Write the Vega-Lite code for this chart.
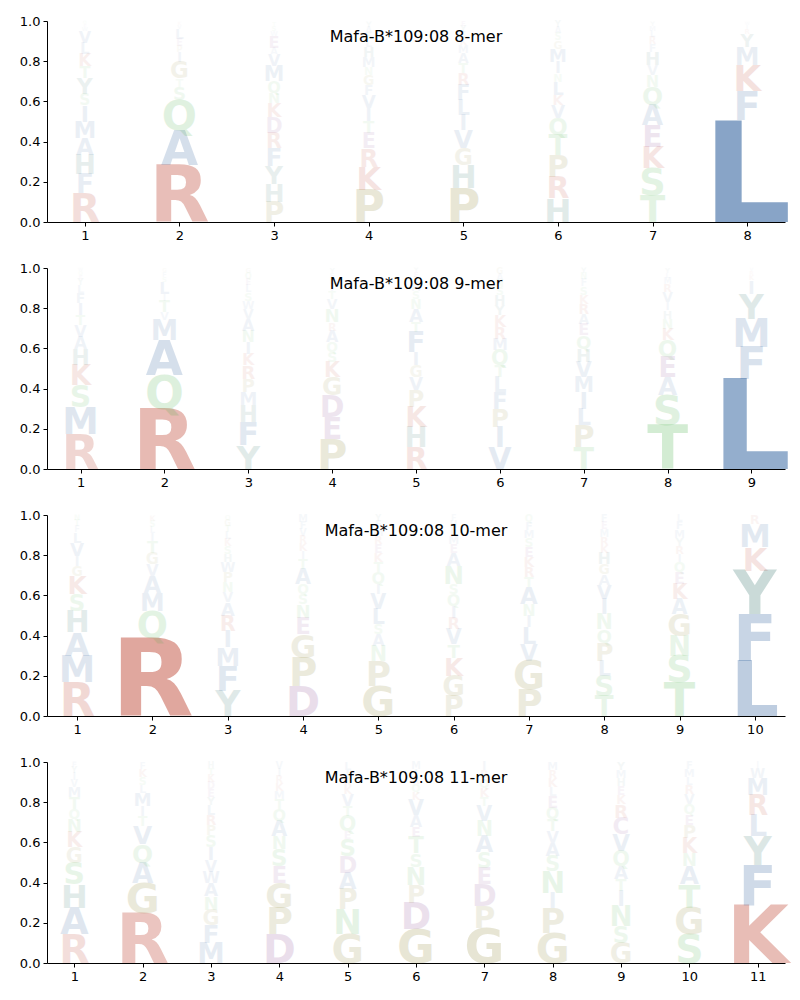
{
"$schema": "https://vega.github.io/schema/vega-lite/v6.json",
"background": "white",
"bounds": "flush",
"padding": {"left": 19, "top": 15, "right": 10, "bottom": 5},
"data": {"values": [
{"k":8,"x":1,"a":"R","p":0.143},{"k":8,"x":1,"a":"F","p":0.095},{"k":8,"x":1,"a":"H","p":0.096},{"k":8,"x":1,"a":"A","p":0.083},{"k":8,"x":1,"a":"M","p":0.083},{"k":8,"x":1,"a":"I","p":0.08},{"k":8,"x":1,"a":"S","p":0.056},{"k":8,"x":1,"a":"Y","p":0.08},{"k":8,"x":1,"a":"T","p":0.058},{"k":8,"x":1,"a":"K","p":0.061},{"k":8,"x":1,"a":"L","p":0.055},{"k":8,"x":1,"a":"V","p":0.058},{"k":8,"x":1,"a":"W","p":0.02},{"k":8,"x":1,"a":"E","p":0.015},{"k":8,"x":1,"a":"Q","p":0.017},
{"k":8,"x":2,"a":"R","p":0.284},{"k":8,"x":2,"a":"A","p":0.174},{"k":8,"x":2,"a":"Q","p":0.15},{"k":8,"x":2,"a":"S","p":0.066},{"k":8,"x":2,"a":"T","p":0.04},{"k":8,"x":2,"a":"G","p":0.083},{"k":8,"x":2,"a":"I","p":0.05},{"k":8,"x":2,"a":"P","p":0.03},{"k":8,"x":2,"a":"E","p":0.035},{"k":8,"x":2,"a":"L","p":0.05},{"k":8,"x":2,"a":"V","p":0.02},{"k":8,"x":2,"a":"K","p":0.016},
{"k":8,"x":3,"a":"P","p":0.1},{"k":8,"x":3,"a":"H","p":0.09},{"k":8,"x":3,"a":"Y","p":0.09},{"k":8,"x":3,"a":"F","p":0.09},{"k":8,"x":3,"a":"R","p":0.075},{"k":8,"x":3,"a":"D","p":0.075},{"k":8,"x":3,"a":"K","p":0.07},{"k":8,"x":3,"a":"N","p":0.053},{"k":8,"x":3,"a":"Q","p":0.058},{"k":8,"x":3,"a":"M","p":0.075},{"k":8,"x":3,"a":"V","p":0.058},{"k":8,"x":3,"a":"A","p":0.033},{"k":8,"x":3,"a":"E","p":0.058},{"k":8,"x":3,"a":"W","p":0.025},{"k":8,"x":3,"a":"S","p":0.025},{"k":8,"x":3,"a":"T","p":0.02},
{"k":8,"x":4,"a":"P","p":0.16},{"k":8,"x":4,"a":"K","p":0.116},{"k":8,"x":4,"a":"R","p":0.09},{"k":8,"x":4,"a":"E","p":0.075},{"k":8,"x":4,"a":"T","p":0.06},{"k":8,"x":4,"a":"I","p":0.065},{"k":8,"x":4,"a":"V","p":0.066},{"k":8,"x":4,"a":"F","p":0.05},{"k":8,"x":4,"a":"G","p":0.05},{"k":8,"x":4,"a":"N","p":0.04},{"k":8,"x":4,"a":"M","p":0.05},{"k":8,"x":4,"a":"H","p":0.05},{"k":8,"x":4,"a":"L","p":0.04},{"k":8,"x":4,"a":"S","p":0.03},{"k":8,"x":4,"a":"A","p":0.03},{"k":8,"x":4,"a":"Y","p":0.028},
{"k":8,"x":5,"a":"P","p":0.167},{"k":8,"x":5,"a":"H","p":0.116},{"k":8,"x":5,"a":"G","p":0.083},{"k":8,"x":5,"a":"V","p":0.09},{"k":8,"x":5,"a":"I","p":0.075},{"k":8,"x":5,"a":"L","p":0.075},{"k":8,"x":5,"a":"F","p":0.075},{"k":8,"x":5,"a":"R","p":0.058},{"k":8,"x":5,"a":"T","p":0.05},{"k":8,"x":5,"a":"A","p":0.05},{"k":8,"x":5,"a":"M","p":0.04},{"k":8,"x":5,"a":"K","p":0.035},{"k":8,"x":5,"a":"S","p":0.03},{"k":8,"x":5,"a":"Y","p":0.03},{"k":8,"x":5,"a":"E","p":0.025},
{"k":8,"x":6,"a":"H","p":0.118},{"k":8,"x":6,"a":"R","p":0.108},{"k":8,"x":6,"a":"P","p":0.108},{"k":8,"x":6,"a":"T","p":0.1},{"k":8,"x":6,"a":"Q","p":0.083},{"k":8,"x":6,"a":"V","p":0.066},{"k":8,"x":6,"a":"K","p":0.05},{"k":8,"x":6,"a":"L","p":0.066},{"k":8,"x":6,"a":"N","p":0.04},{"k":8,"x":6,"a":"I","p":0.058},{"k":8,"x":6,"a":"M","p":0.066},{"k":8,"x":6,"a":"G","p":0.04},{"k":8,"x":6,"a":"S","p":0.035},{"k":8,"x":6,"a":"A","p":0.03},{"k":8,"x":6,"a":"Y","p":0.031},
{"k":8,"x":7,"a":"T","p":0.134},{"k":8,"x":7,"a":"S","p":0.133},{"k":8,"x":7,"a":"K","p":0.108},{"k":8,"x":7,"a":"E","p":0.108},{"k":8,"x":7,"a":"A","p":0.1},{"k":8,"x":7,"a":"Q","p":0.09},{"k":8,"x":7,"a":"N","p":0.058},{"k":8,"x":7,"a":"V","p":0.05},{"k":8,"x":7,"a":"H","p":0.066},{"k":8,"x":7,"a":"F","p":0.04},{"k":8,"x":7,"a":"R","p":0.035},{"k":8,"x":7,"a":"L","p":0.03},{"k":8,"x":7,"a":"M","p":0.025},{"k":8,"x":7,"a":"Y","p":0.023},
{"k":8,"x":8,"a":"L","p":0.507},{"k":8,"x":8,"a":"F","p":0.144},{"k":8,"x":8,"a":"K","p":0.13},{"k":8,"x":8,"a":"M","p":0.09},{"k":8,"x":8,"a":"Y","p":0.066},{"k":8,"x":8,"a":"R","p":0.025},{"k":8,"x":8,"a":"I","p":0.02},{"k":8,"x":8,"a":"W","p":0.016},
{"k":9,"x":1,"a":"R","p":0.176},{"k":9,"x":1,"a":"M","p":0.133},{"k":9,"x":1,"a":"S","p":0.108},{"k":9,"x":1,"a":"K","p":0.1},{"k":9,"x":1,"a":"H","p":0.08},{"k":9,"x":1,"a":"A","p":0.061},{"k":9,"x":1,"a":"V","p":0.058},{"k":9,"x":1,"a":"T","p":0.05},{"k":9,"x":1,"a":"I","p":0.058},{"k":9,"x":1,"a":"F","p":0.05},{"k":9,"x":1,"a":"L","p":0.041},{"k":9,"x":1,"a":"Y","p":0.03},{"k":9,"x":1,"a":"E","p":0.02},{"k":9,"x":1,"a":"Q","p":0.02},{"k":9,"x":1,"a":"W","p":0.016},
{"k":9,"x":2,"a":"R","p":0.3},{"k":9,"x":2,"a":"Q","p":0.166},{"k":9,"x":2,"a":"A","p":0.174},{"k":9,"x":2,"a":"M","p":0.1},{"k":9,"x":2,"a":"V","p":0.04},{"k":9,"x":2,"a":"T","p":0.058},{"k":9,"x":2,"a":"I","p":0.033},{"k":9,"x":2,"a":"L","p":0.058},{"k":9,"x":2,"a":"S","p":0.025},{"k":9,"x":2,"a":"F","p":0.025},{"k":9,"x":2,"a":"G","p":0.02},
{"k":9,"x":3,"a":"Y","p":0.118},{"k":9,"x":3,"a":"F","p":0.116},{"k":9,"x":3,"a":"H","p":0.083},{"k":9,"x":3,"a":"M","p":0.066},{"k":9,"x":3,"a":"P","p":0.066},{"k":9,"x":3,"a":"R","p":0.066},{"k":9,"x":3,"a":"K","p":0.058},{"k":9,"x":3,"a":"I","p":0.058},{"k":9,"x":3,"a":"N","p":0.058},{"k":9,"x":3,"a":"A","p":0.058},{"k":9,"x":3,"a":"V","p":0.05},{"k":9,"x":3,"a":"W","p":0.041},{"k":9,"x":3,"a":"S","p":0.041},{"k":9,"x":3,"a":"L","p":0.035},{"k":9,"x":3,"a":"E","p":0.03},{"k":9,"x":3,"a":"Q","p":0.03},{"k":9,"x":3,"a":"G","p":0.025},
{"k":9,"x":4,"a":"P","p":0.15},{"k":9,"x":4,"a":"E","p":0.108},{"k":9,"x":4,"a":"D","p":0.108},{"k":9,"x":4,"a":"G","p":0.09},{"k":9,"x":4,"a":"K","p":0.075},{"k":9,"x":4,"a":"S","p":0.05},{"k":9,"x":4,"a":"Q","p":0.05},{"k":9,"x":4,"a":"A","p":0.058},{"k":9,"x":4,"a":"R","p":0.04},{"k":9,"x":4,"a":"N","p":0.066},{"k":9,"x":4,"a":"V","p":0.05},{"k":9,"x":4,"a":"T","p":0.04},{"k":9,"x":4,"a":"I","p":0.035},{"k":9,"x":4,"a":"L","p":0.03},{"k":9,"x":4,"a":"F","p":0.025},{"k":9,"x":4,"a":"Y","p":0.025},
{"k":9,"x":5,"a":"R","p":0.109},{"k":9,"x":5,"a":"H","p":0.1},{"k":9,"x":5,"a":"K","p":0.1},{"k":9,"x":5,"a":"P","p":0.083},{"k":9,"x":5,"a":"V","p":0.066},{"k":9,"x":5,"a":"G","p":0.058},{"k":9,"x":5,"a":"I","p":0.066},{"k":9,"x":5,"a":"F","p":0.1},{"k":9,"x":5,"a":"T","p":0.05},{"k":9,"x":5,"a":"A","p":0.066},{"k":9,"x":5,"a":"N","p":0.05},{"k":9,"x":5,"a":"S","p":0.04},{"k":9,"x":5,"a":"M","p":0.035},{"k":9,"x":5,"a":"L","p":0.03},{"k":9,"x":5,"a":"E","p":0.025},{"k":9,"x":5,"a":"Y","p":0.023},
{"k":9,"x":6,"a":"V","p":0.109},{"k":9,"x":6,"a":"I","p":0.1},{"k":9,"x":6,"a":"P","p":0.09},{"k":9,"x":6,"a":"F","p":0.083},{"k":9,"x":6,"a":"L","p":0.075},{"k":9,"x":6,"a":"T","p":0.058},{"k":9,"x":6,"a":"Q","p":0.075},{"k":9,"x":6,"a":"M","p":0.058},{"k":9,"x":6,"a":"R","p":0.058},{"k":9,"x":6,"a":"K","p":0.058},{"k":9,"x":6,"a":"Y","p":0.05},{"k":9,"x":6,"a":"H","p":0.05},{"k":9,"x":6,"a":"S","p":0.04},{"k":9,"x":6,"a":"N","p":0.035},{"k":9,"x":6,"a":"A","p":0.03},{"k":9,"x":6,"a":"G","p":0.031},
{"k":9,"x":7,"a":"T","p":0.109},{"k":9,"x":7,"a":"P","p":0.108},{"k":9,"x":7,"a":"L","p":0.083},{"k":9,"x":7,"a":"I","p":0.083},{"k":9,"x":7,"a":"M","p":0.075},{"k":9,"x":7,"a":"V","p":0.075},{"k":9,"x":7,"a":"H","p":0.066},{"k":9,"x":7,"a":"Q","p":0.066},{"k":9,"x":7,"a":"E","p":0.058},{"k":9,"x":7,"a":"A","p":0.05},{"k":9,"x":7,"a":"R","p":0.05},{"k":9,"x":7,"a":"K","p":0.045},{"k":9,"x":7,"a":"S","p":0.04},{"k":9,"x":7,"a":"F","p":0.035},{"k":9,"x":7,"a":"N","p":0.03},{"k":9,"x":7,"a":"Y","p":0.027},
{"k":9,"x":8,"a":"T","p":0.217},{"k":9,"x":8,"a":"S","p":0.15},{"k":9,"x":8,"a":"A","p":0.09},{"k":9,"x":8,"a":"E","p":0.1},{"k":9,"x":8,"a":"Q","p":0.083},{"k":9,"x":8,"a":"K","p":0.058},{"k":9,"x":8,"a":"N","p":0.05},{"k":9,"x":8,"a":"H","p":0.041},{"k":9,"x":8,"a":"I","p":0.041},{"k":9,"x":8,"a":"V","p":0.05},{"k":9,"x":8,"a":"R","p":0.04},{"k":9,"x":8,"a":"M","p":0.03},{"k":9,"x":8,"a":"L","p":0.025},{"k":9,"x":8,"a":"Y","p":0.025},
{"k":9,"x":9,"a":"L","p":0.45},{"k":9,"x":9,"a":"F","p":0.158},{"k":9,"x":9,"a":"M","p":0.14},{"k":9,"x":9,"a":"Y","p":0.124},{"k":9,"x":9,"a":"I","p":0.066},{"k":9,"x":9,"a":"K","p":0.025},{"k":9,"x":9,"a":"R","p":0.02},{"k":9,"x":9,"a":"V","p":0.016},
{"k":10,"x":1,"a":"R","p":0.167},{"k":10,"x":1,"a":"M","p":0.133},{"k":10,"x":1,"a":"A","p":0.116},{"k":10,"x":1,"a":"H","p":0.108},{"k":10,"x":1,"a":"S","p":0.083},{"k":10,"x":1,"a":"K","p":0.09},{"k":10,"x":1,"a":"G","p":0.05},{"k":10,"x":1,"a":"I","p":0.05},{"k":10,"x":1,"a":"V","p":0.066},{"k":10,"x":1,"a":"L","p":0.05},{"k":10,"x":1,"a":"F","p":0.03},{"k":10,"x":1,"a":"T","p":0.03},{"k":10,"x":1,"a":"N","p":0.027},
{"k":10,"x":2,"a":"R","p":0.39},{"k":10,"x":2,"a":"Q","p":0.133},{"k":10,"x":2,"a":"M","p":0.09},{"k":10,"x":2,"a":"A","p":0.083},{"k":10,"x":2,"a":"V","p":0.058},{"k":10,"x":2,"a":"G","p":0.058},{"k":10,"x":2,"a":"T","p":0.058},{"k":10,"x":2,"a":"I","p":0.041},{"k":10,"x":2,"a":"L","p":0.03},{"k":10,"x":2,"a":"S","p":0.03},{"k":10,"x":2,"a":"K","p":0.028},
{"k":10,"x":3,"a":"Y","p":0.126},{"k":10,"x":3,"a":"F","p":0.125},{"k":10,"x":3,"a":"M","p":0.09},{"k":10,"x":3,"a":"I","p":0.083},{"k":10,"x":3,"a":"R","p":0.075},{"k":10,"x":3,"a":"A","p":0.066},{"k":10,"x":3,"a":"V","p":0.05},{"k":10,"x":3,"a":"N","p":0.05},{"k":10,"x":3,"a":"P","p":0.05},{"k":10,"x":3,"a":"W","p":0.05},{"k":10,"x":3,"a":"H","p":0.04},{"k":10,"x":3,"a":"S","p":0.04},{"k":10,"x":3,"a":"K","p":0.035},{"k":10,"x":3,"a":"L","p":0.035},{"k":10,"x":3,"a":"T","p":0.03},{"k":10,"x":3,"a":"G","p":0.03},{"k":10,"x":3,"a":"Q","p":0.025},
{"k":10,"x":4,"a":"D","p":0.15},{"k":10,"x":4,"a":"P","p":0.14},{"k":10,"x":4,"a":"G","p":0.116},{"k":10,"x":4,"a":"E","p":0.083},{"k":10,"x":4,"a":"N","p":0.066},{"k":10,"x":4,"a":"S","p":0.05},{"k":10,"x":4,"a":"Q","p":0.05},{"k":10,"x":4,"a":"A","p":0.075},{"k":10,"x":4,"a":"T","p":0.05},{"k":10,"x":4,"a":"I","p":0.04},{"k":10,"x":4,"a":"K","p":0.04},{"k":10,"x":4,"a":"R","p":0.035},{"k":10,"x":4,"a":"V","p":0.035},{"k":10,"x":4,"a":"F","p":0.035},{"k":10,"x":4,"a":"M","p":0.035},
{"k":10,"x":5,"a":"G","p":0.15},{"k":10,"x":5,"a":"P","p":0.125},{"k":10,"x":5,"a":"N","p":0.075},{"k":10,"x":5,"a":"A","p":0.058},{"k":10,"x":5,"a":"S","p":0.05},{"k":10,"x":5,"a":"L","p":0.075},{"k":10,"x":5,"a":"V","p":0.075},{"k":10,"x":5,"a":"I","p":0.05},{"k":10,"x":5,"a":"Q","p":0.058},{"k":10,"x":5,"a":"T","p":0.05},{"k":10,"x":5,"a":"K","p":0.045},{"k":10,"x":5,"a":"E","p":0.045},{"k":10,"x":5,"a":"R","p":0.04},{"k":10,"x":5,"a":"M","p":0.04},{"k":10,"x":5,"a":"F","p":0.035},{"k":10,"x":5,"a":"Y","p":0.03},
{"k":10,"x":6,"a":"P","p":0.1},{"k":10,"x":6,"a":"G","p":0.1},{"k":10,"x":6,"a":"K","p":0.09},{"k":10,"x":6,"a":"T","p":0.066},{"k":10,"x":6,"a":"V","p":0.075},{"k":10,"x":6,"a":"R","p":0.058},{"k":10,"x":6,"a":"I","p":0.058},{"k":10,"x":6,"a":"Q","p":0.058},{"k":10,"x":6,"a":"S","p":0.05},{"k":10,"x":6,"a":"N","p":0.09},{"k":10,"x":6,"a":"A","p":0.066},{"k":10,"x":6,"a":"E","p":0.045},{"k":10,"x":6,"a":"M","p":0.04},{"k":10,"x":6,"a":"L","p":0.04},{"k":10,"x":6,"a":"H","p":0.035},{"k":10,"x":6,"a":"F","p":0.029},
{"k":10,"x":7,"a":"P","p":0.134},{"k":10,"x":7,"a":"G","p":0.141},{"k":10,"x":7,"a":"V","p":0.083},{"k":10,"x":7,"a":"L","p":0.083},{"k":10,"x":7,"a":"I","p":0.058},{"k":10,"x":7,"a":"N","p":0.058},{"k":10,"x":7,"a":"A","p":0.083},{"k":10,"x":7,"a":"T","p":0.05},{"k":10,"x":7,"a":"R","p":0.05},{"k":10,"x":7,"a":"K","p":0.05},{"k":10,"x":7,"a":"E","p":0.05},{"k":10,"x":7,"a":"S","p":0.045},{"k":10,"x":7,"a":"M","p":0.04},{"k":10,"x":7,"a":"F","p":0.04},{"k":10,"x":7,"a":"Q","p":0.035},
{"k":10,"x":8,"a":"T","p":0.1},{"k":10,"x":8,"a":"S","p":0.1},{"k":10,"x":8,"a":"L","p":0.075},{"k":10,"x":8,"a":"P","p":0.09},{"k":10,"x":8,"a":"Q","p":0.066},{"k":10,"x":8,"a":"N","p":0.075},{"k":10,"x":8,"a":"I","p":0.075},{"k":10,"x":8,"a":"V","p":0.07},{"k":10,"x":8,"a":"A","p":0.054},{"k":10,"x":8,"a":"G","p":0.05},{"k":10,"x":8,"a":"H","p":0.058},{"k":10,"x":8,"a":"K","p":0.04},{"k":10,"x":8,"a":"R","p":0.04},{"k":10,"x":8,"a":"M","p":0.035},{"k":10,"x":8,"a":"E","p":0.035},{"k":10,"x":8,"a":"F","p":0.036},
{"k":10,"x":9,"a":"T","p":0.167},{"k":10,"x":9,"a":"S","p":0.133},{"k":10,"x":9,"a":"N","p":0.1},{"k":10,"x":9,"a":"G","p":0.108},{"k":10,"x":9,"a":"A","p":0.075},{"k":10,"x":9,"a":"K","p":0.075},{"k":10,"x":9,"a":"E","p":0.058},{"k":10,"x":9,"a":"Q","p":0.05},{"k":10,"x":9,"a":"I","p":0.041},{"k":10,"x":9,"a":"R","p":0.041},{"k":10,"x":9,"a":"Y","p":0.04},{"k":10,"x":9,"a":"M","p":0.04},{"k":10,"x":9,"a":"F","p":0.04},{"k":10,"x":9,"a":"L","p":0.033},
{"k":10,"x":10,"a":"L","p":0.275},{"k":10,"x":10,"a":"F","p":0.232},{"k":10,"x":10,"a":"Y","p":0.216},{"k":10,"x":10,"a":"K","p":0.116},{"k":10,"x":10,"a":"M","p":0.116},{"k":10,"x":10,"a":"R","p":0.045},
{"k":11,"x":1,"a":"R","p":0.143},{"k":11,"x":1,"a":"A","p":0.133},{"k":11,"x":1,"a":"H","p":0.116},{"k":11,"x":1,"a":"S","p":0.108},{"k":11,"x":1,"a":"G","p":0.075},{"k":11,"x":1,"a":"K","p":0.075},{"k":11,"x":1,"a":"N","p":0.066},{"k":11,"x":1,"a":"Q","p":0.05},{"k":11,"x":1,"a":"T","p":0.058},{"k":11,"x":1,"a":"M","p":0.05},{"k":11,"x":1,"a":"V","p":0.035},{"k":11,"x":1,"a":"I","p":0.035},{"k":11,"x":1,"a":"Y","p":0.03},{"k":11,"x":1,"a":"F","p":0.027},
{"k":11,"x":2,"a":"R","p":0.25},{"k":11,"x":2,"a":"G","p":0.15},{"k":11,"x":2,"a":"A","p":0.1},{"k":11,"x":2,"a":"Q","p":0.09},{"k":11,"x":2,"a":"V","p":0.09},{"k":11,"x":2,"a":"T","p":0.05},{"k":11,"x":2,"a":"I","p":0.05},{"k":11,"x":2,"a":"M","p":0.066},{"k":11,"x":2,"a":"L","p":0.04},{"k":11,"x":2,"a":"S","p":0.04},{"k":11,"x":2,"a":"K","p":0.04},{"k":11,"x":2,"a":"F","p":0.033},
{"k":11,"x":3,"a":"M","p":0.1},{"k":11,"x":3,"a":"F","p":0.09},{"k":11,"x":3,"a":"G","p":0.075},{"k":11,"x":3,"a":"N","p":0.066},{"k":11,"x":3,"a":"A","p":0.066},{"k":11,"x":3,"a":"W","p":0.058},{"k":11,"x":3,"a":"V","p":0.058},{"k":11,"x":3,"a":"I","p":0.066},{"k":11,"x":3,"a":"S","p":0.058},{"k":11,"x":3,"a":"P","p":0.05},{"k":11,"x":3,"a":"R","p":0.05},{"k":11,"x":3,"a":"L","p":0.05},{"k":11,"x":3,"a":"Y","p":0.04},{"k":11,"x":3,"a":"E","p":0.04},{"k":11,"x":3,"a":"D","p":0.035},{"k":11,"x":3,"a":"K","p":0.035},{"k":11,"x":3,"a":"T","p":0.033},{"k":11,"x":3,"a":"H","p":0.03},
{"k":11,"x":4,"a":"D","p":0.143},{"k":11,"x":4,"a":"P","p":0.133},{"k":11,"x":4,"a":"G","p":0.124},{"k":11,"x":4,"a":"E","p":0.083},{"k":11,"x":4,"a":"S","p":0.083},{"k":11,"x":4,"a":"N","p":0.066},{"k":11,"x":4,"a":"A","p":0.075},{"k":11,"x":4,"a":"Q","p":0.058},{"k":11,"x":4,"a":"T","p":0.05},{"k":11,"x":4,"a":"M","p":0.04},{"k":11,"x":4,"a":"K","p":0.04},{"k":11,"x":4,"a":"R","p":0.035},{"k":11,"x":4,"a":"I","p":0.036},{"k":11,"x":4,"a":"V","p":0.035},
{"k":11,"x":5,"a":"G","p":0.143},{"k":11,"x":5,"a":"N","p":0.124},{"k":11,"x":5,"a":"P","p":0.1},{"k":11,"x":5,"a":"A","p":0.083},{"k":11,"x":5,"a":"D","p":0.083},{"k":11,"x":5,"a":"S","p":0.083},{"k":11,"x":5,"a":"E","p":0.041},{"k":11,"x":5,"a":"Q","p":0.075},{"k":11,"x":5,"a":"T","p":0.05},{"k":11,"x":5,"a":"V","p":0.058},{"k":11,"x":5,"a":"K","p":0.04},{"k":11,"x":5,"a":"R","p":0.04},{"k":11,"x":5,"a":"I","p":0.04},{"k":11,"x":5,"a":"L","p":0.04},
{"k":11,"x":6,"a":"G","p":0.167},{"k":11,"x":6,"a":"D","p":0.133},{"k":11,"x":6,"a":"P","p":0.09},{"k":11,"x":6,"a":"N","p":0.09},{"k":11,"x":6,"a":"S","p":0.066},{"k":11,"x":6,"a":"T","p":0.083},{"k":11,"x":6,"a":"E","p":0.05},{"k":11,"x":6,"a":"A","p":0.058},{"k":11,"x":6,"a":"V","p":0.075},{"k":11,"x":6,"a":"K","p":0.04},{"k":11,"x":6,"a":"Q","p":0.04},{"k":11,"x":6,"a":"R","p":0.035},{"k":11,"x":6,"a":"I","p":0.036},{"k":11,"x":6,"a":"M","p":0.035},
{"k":11,"x":7,"a":"G","p":0.176},{"k":11,"x":7,"a":"P","p":0.108},{"k":11,"x":7,"a":"D","p":0.108},{"k":11,"x":7,"a":"E","p":0.083},{"k":11,"x":7,"a":"S","p":0.075},{"k":11,"x":7,"a":"A","p":0.083},{"k":11,"x":7,"a":"N","p":0.075},{"k":11,"x":7,"a":"V","p":0.075},{"k":11,"x":7,"a":"T","p":0.045},{"k":11,"x":7,"a":"K","p":0.045},{"k":11,"x":7,"a":"Q","p":0.045},{"k":11,"x":7,"a":"R","p":0.04},{"k":11,"x":7,"a":"I","p":0.044},
{"k":11,"x":8,"a":"G","p":0.15},{"k":11,"x":8,"a":"P","p":0.124},{"k":11,"x":8,"a":"I","p":0.075},{"k":11,"x":8,"a":"N","p":0.108},{"k":11,"x":8,"a":"S","p":0.075},{"k":11,"x":8,"a":"A","p":0.066},{"k":11,"x":8,"a":"V","p":0.058},{"k":11,"x":8,"a":"T","p":0.058},{"k":11,"x":8,"a":"Q","p":0.058},{"k":11,"x":8,"a":"E","p":0.058},{"k":11,"x":8,"a":"L","p":0.045},{"k":11,"x":8,"a":"K","p":0.045},{"k":11,"x":8,"a":"R","p":0.04},{"k":11,"x":8,"a":"M","p":0.039},
{"k":11,"x":9,"a":"G","p":0.1},{"k":11,"x":9,"a":"S","p":0.083},{"k":11,"x":9,"a":"N","p":0.1},{"k":11,"x":9,"a":"I","p":0.075},{"k":11,"x":9,"a":"T","p":0.058},{"k":11,"x":9,"a":"A","p":0.066},{"k":11,"x":9,"a":"Q","p":0.075},{"k":11,"x":9,"a":"V","p":0.083},{"k":11,"x":9,"a":"C","p":0.083},{"k":11,"x":9,"a":"R","p":0.066},{"k":11,"x":9,"a":"K","p":0.045},{"k":11,"x":9,"a":"E","p":0.045},{"k":11,"x":9,"a":"H","p":0.04},{"k":11,"x":9,"a":"M","p":0.04},{"k":11,"x":9,"a":"Y","p":0.04},
{"k":11,"x":10,"a":"S","p":0.143},{"k":11,"x":10,"a":"G","p":0.133},{"k":11,"x":10,"a":"T","p":0.116},{"k":11,"x":10,"a":"A","p":0.09},{"k":11,"x":10,"a":"N","p":0.066},{"k":11,"x":10,"a":"K","p":0.075},{"k":11,"x":10,"a":"P","p":0.066},{"k":11,"x":10,"a":"E","p":0.05},{"k":11,"x":10,"a":"Q","p":0.05},{"k":11,"x":10,"a":"V","p":0.05},{"k":11,"x":10,"a":"R","p":0.045},{"k":11,"x":10,"a":"L","p":0.04},{"k":11,"x":10,"a":"M","p":0.04},{"k":11,"x":10,"a":"F","p":0.036},
{"k":11,"x":11,"a":"K","p":0.29},{"k":11,"x":11,"a":"F","p":0.2},{"k":11,"x":11,"a":"Y","p":0.14},{"k":11,"x":11,"a":"L","p":0.108},{"k":11,"x":11,"a":"R","p":0.1},{"k":11,"x":11,"a":"M","p":0.083},{"k":11,"x":11,"a":"W","p":0.05},{"k":11,"x":11,"a":"I","p":0.029}
]},
"spacing": 46,
"resolve": {"scale": {"x": "independent", "y": "independent"}},
"vconcat": [
{"width": 738, "height": 201, "title": {"text": "Mafa-B*109:08 8-mer"},
 "transform": [{"filter": "datum.k == 8"}, {"stack": "p", "groupby": ["x"], "as": ["y0", "y1"]}],
 "mark": {"type": "text", "font": "DejaVu Sans", "fontWeight": "bold", "baseline": "alphabetic", "align": "center"},
 "encoding": {
  "x": {"field": "x", "type": "quantitative", "scale": {"domain": [0.6, 8.4], "nice": false, "zero": false}, "axis": {"values": [1,2,3,4,5,6,7,8], "format": "d"}},
  "y": {"field": "y0", "type": "quantitative", "scale": {"domain": [0, 1], "nice": false}, "axis": {"values": [0,0.2,0.4,0.6,0.8,1], "format": ".1f"}},
  "text": {"field": "a"},
  "color": {"field": "a", "type": "nominal", "scale": {"domain": ["A","C","D","E","F","G","H","I","K","L","M","N","P","Q","R","S","T","V","W","Y"], "range": ["#154d91","#70207a","#70207a","#70207a","#154d91","#7a7010","#0e5a50","#154d91","#b11e08","#154d91","#154d91","#37a937","#7a7010","#37a937","#b11e08","#37a937","#37a937","#154d91","#154d91","#0e5a50"]}, "legend": null},
  "size": {"field": "p", "type": "quantitative", "scale": {"domain": [0, 1], "range": [0, 276]}, "legend": null},
  "opacity": {"field": "p", "type": "quantitative", "scale": {"domain": [0, 1], "range": [0, 1]}, "legend": null}
 }},
{"width": 738, "height": 201, "title": {"text": "Mafa-B*109:08 9-mer"},
 "transform": [{"filter": "datum.k == 9"}, {"stack": "p", "groupby": ["x"], "as": ["y0", "y1"]}],
 "mark": {"type": "text", "font": "DejaVu Sans", "fontWeight": "bold", "baseline": "alphabetic", "align": "center"},
 "encoding": {
  "x": {"field": "x", "type": "quantitative", "scale": {"domain": [0.6, 9.4], "nice": false, "zero": false}, "axis": {"values": [1,2,3,4,5,6,7,8,9], "format": "d"}},
  "y": {"field": "y0", "type": "quantitative", "scale": {"domain": [0, 1], "nice": false}, "axis": {"values": [0,0.2,0.4,0.6,0.8,1], "format": ".1f"}},
  "text": {"field": "a"},
  "color": {"field": "a", "type": "nominal", "scale": {"domain": ["A","C","D","E","F","G","H","I","K","L","M","N","P","Q","R","S","T","V","W","Y"], "range": ["#154d91","#70207a","#70207a","#70207a","#154d91","#7a7010","#0e5a50","#154d91","#b11e08","#154d91","#154d91","#37a937","#7a7010","#37a937","#b11e08","#37a937","#37a937","#154d91","#154d91","#0e5a50"]}, "legend": null},
  "size": {"field": "p", "type": "quantitative", "scale": {"domain": [0, 1], "range": [0, 276]}, "legend": null},
  "opacity": {"field": "p", "type": "quantitative", "scale": {"domain": [0, 1], "range": [0, 1]}, "legend": null}
 }},
{"width": 738, "height": 201, "title": {"text": "Mafa-B*109:08 10-mer"},
 "transform": [{"filter": "datum.k == 10"}, {"stack": "p", "groupby": ["x"], "as": ["y0", "y1"]}],
 "mark": {"type": "text", "font": "DejaVu Sans", "fontWeight": "bold", "baseline": "alphabetic", "align": "center"},
 "encoding": {
  "x": {"field": "x", "type": "quantitative", "scale": {"domain": [0.6, 10.4], "nice": false, "zero": false}, "axis": {"values": [1,2,3,4,5,6,7,8,9,10], "format": "d"}},
  "y": {"field": "y0", "type": "quantitative", "scale": {"domain": [0, 1], "nice": false}, "axis": {"values": [0,0.2,0.4,0.6,0.8,1], "format": ".1f"}},
  "text": {"field": "a"},
  "color": {"field": "a", "type": "nominal", "scale": {"domain": ["A","C","D","E","F","G","H","I","K","L","M","N","P","Q","R","S","T","V","W","Y"], "range": ["#154d91","#70207a","#70207a","#70207a","#154d91","#7a7010","#0e5a50","#154d91","#b11e08","#154d91","#154d91","#37a937","#7a7010","#37a937","#b11e08","#37a937","#37a937","#154d91","#154d91","#0e5a50"]}, "legend": null},
  "size": {"field": "p", "type": "quantitative", "scale": {"domain": [0, 1], "range": [0, 276]}, "legend": null},
  "opacity": {"field": "p", "type": "quantitative", "scale": {"domain": [0, 1], "range": [0, 1]}, "legend": null}
 }},
{"width": 738, "height": 201, "title": {"text": "Mafa-B*109:08 11-mer"},
 "transform": [{"filter": "datum.k == 11"}, {"stack": "p", "groupby": ["x"], "as": ["y0", "y1"]}],
 "mark": {"type": "text", "font": "DejaVu Sans", "fontWeight": "bold", "baseline": "alphabetic", "align": "center"},
 "encoding": {
  "x": {"field": "x", "type": "quantitative", "scale": {"domain": [0.6, 11.4], "nice": false, "zero": false}, "axis": {"values": [1,2,3,4,5,6,7,8,9,10,11], "format": "d"}},
  "y": {"field": "y0", "type": "quantitative", "scale": {"domain": [0, 1], "nice": false}, "axis": {"values": [0,0.2,0.4,0.6,0.8,1], "format": ".1f"}},
  "text": {"field": "a"},
  "color": {"field": "a", "type": "nominal", "scale": {"domain": ["A","C","D","E","F","G","H","I","K","L","M","N","P","Q","R","S","T","V","W","Y"], "range": ["#154d91","#70207a","#70207a","#70207a","#154d91","#7a7010","#0e5a50","#154d91","#b11e08","#154d91","#154d91","#37a937","#7a7010","#37a937","#b11e08","#37a937","#37a937","#154d91","#154d91","#0e5a50"]}, "legend": null},
  "size": {"field": "p", "type": "quantitative", "scale": {"domain": [0, 1], "range": [0, 276]}, "legend": null},
  "opacity": {"field": "p", "type": "quantitative", "scale": {"domain": [0, 1], "range": [0, 1]}, "legend": null}
 }}
],
"config": {
 "view": {"stroke": null},
 "axis": {"grid": false, "title": null, "domainColor": "black", "domainWidth": 1, "tickColor": "black", "tickSize": 4, "labelColor": "black", "labelFont": "DejaVu Sans", "labelFontSize": 13, "labelPadding": 3},
 "axisX": {"labelAngle": 0},
 "title": {"font": "DejaVu Sans", "fontSize": 16, "fontWeight": "normal", "color": "black", "anchor": "middle", "offset": -30}
}
}
